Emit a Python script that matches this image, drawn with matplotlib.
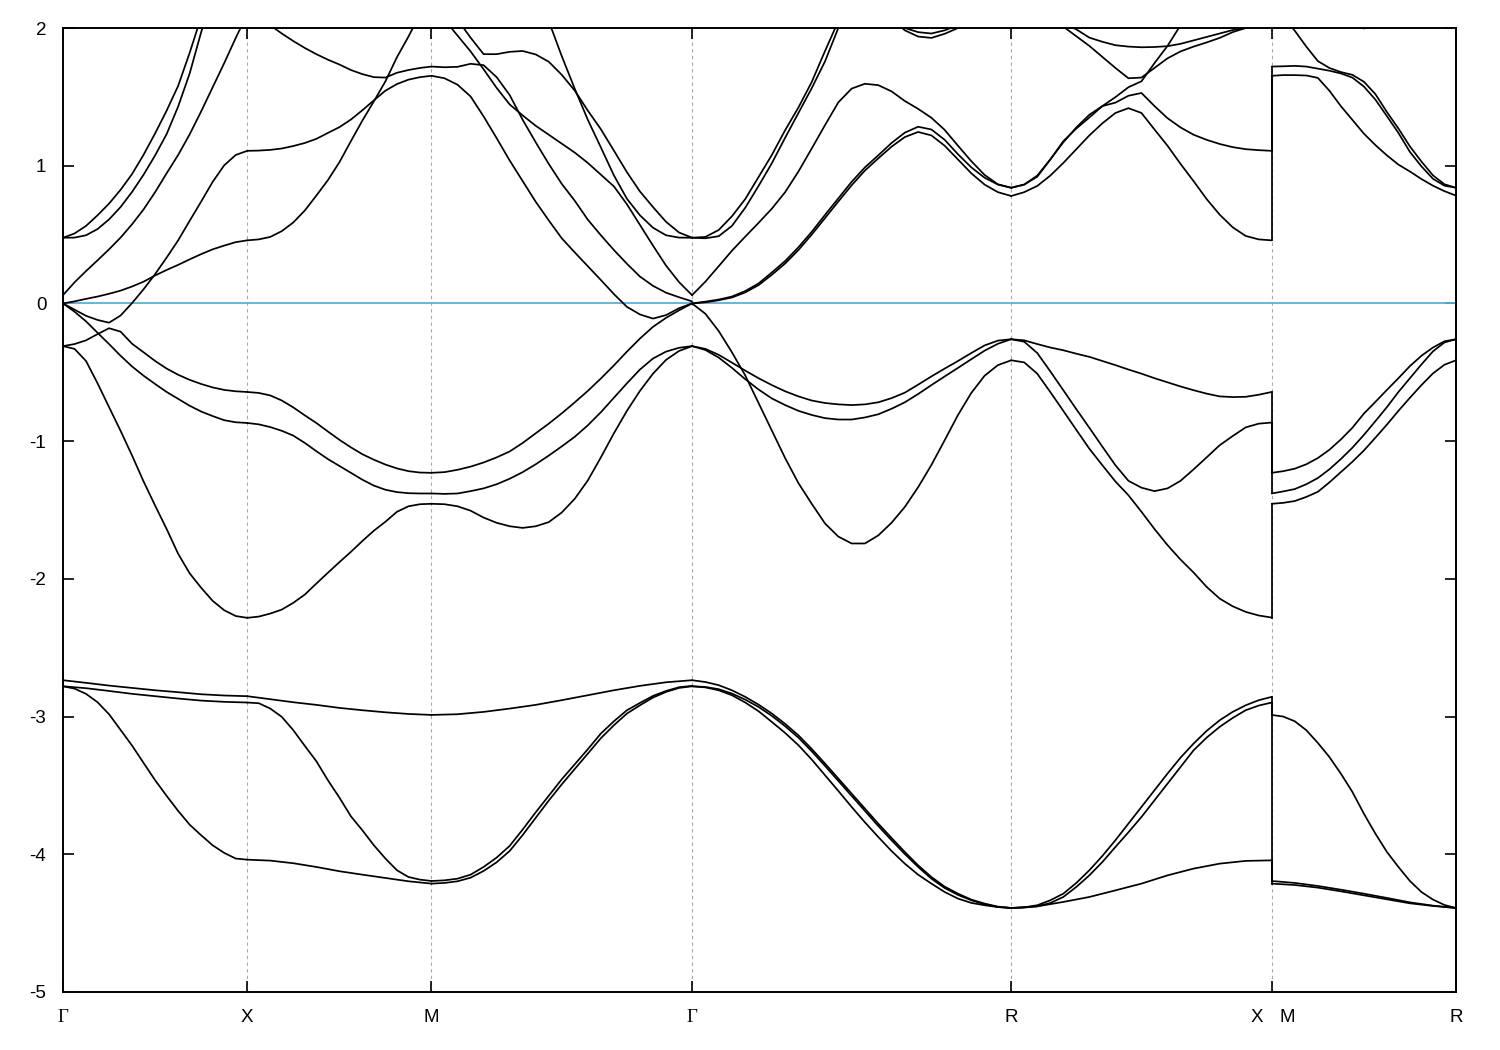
import matplotlib
matplotlib.use('Agg')
import matplotlib.pyplot as plt
import numpy as np

plt.rcParams['font.family'] = ['Liberation Sans', 'DejaVu Sans']
plt.rcParams['axes.unicode_minus'] = False

# high-symmetry points along the path (units of 2pi/a)
kpt_labels = ['Γ', 'X', 'M', 'Γ', 'R', 'X', 'M', 'R']
kpt_pos = [0.0, 0.5, 1.0, 1.7071, 2.5731, 3.2802, 3.2802, 3.7802]

# Each list: band energies (eV) sampled uniformly along one path segment.
# ---------------- Γ-X ----------------
b1_gx = [-2.780, -2.797, -2.835, -2.896, -2.983, -3.097, -3.211, -3.337, -3.462, -3.576, -3.685, -3.785, -3.862, -3.935, -3.990, -4.031, -4.039]
b2_gx = [-2.780, -2.794, -2.814, -2.835, -2.852, -2.869, -2.884, -2.893, -2.898]
b3_gx = [-2.736, -2.755, -2.775, -2.792, -2.809, -2.823, -2.838, -2.847, -2.852]
c1_gx = [-0.31, -0.33, -0.418, -0.58, -0.753, -0.925, -1.105, -1.293, -1.468, -1.638, -1.818, -1.96, -2.065, -2.16, -2.228, -2.27, -2.283]
c2_gx = [0.0, -0.06, -0.13, -0.213, -0.295, -0.38, -0.458, -0.525, -0.585, -0.643, -0.693, -0.743, -0.785, -0.818, -0.848, -0.863, -0.868]
c3_gx = [-0.31, -0.295, -0.268, -0.223, -0.18, -0.205, -0.293, -0.355, -0.418, -0.473, -0.518, -0.555, -0.585, -0.61, -0.628, -0.638, -0.643]
c4_gx = [0.0, -0.045, -0.09, -0.12, -0.14, -0.088, 0.003, 0.103, 0.213, 0.333, 0.458, 0.60, 0.74, 0.883, 1.003, 1.078, 1.108]
c5_gx = [0.0, 0.015, 0.033, 0.05, 0.07, 0.093, 0.123, 0.158, 0.203, 0.243, 0.28, 0.32, 0.358, 0.393, 0.42, 0.445, 0.458]
c6_gx = [0.06, 0.153, 0.235, 0.313, 0.393, 0.478, 0.575, 0.683, 0.808, 0.945, 1.078, 1.228, 1.395, 1.57, 1.745, 1.928, 2.1]
c7_gx = [0.477, 0.508, 0.563, 0.64, 0.725, 0.825, 0.94, 1.08, 1.235, 1.40, 1.58, 1.82, 2.08, 2.35, 2.55, 2.7, 2.8]
c8_gx = [0.477, 0.478, 0.495, 0.54, 0.61, 0.70, 0.81, 0.935, 1.075, 1.23, 1.43, 1.67, 1.97, 2.25, 2.45, 2.6, 2.7]

# ---------------- X-M ----------------
b1_xm = [-4.039, -4.046, -4.065, -4.092, -4.123, -4.148, -4.172, -4.196, -4.213]
b2_xm = [-2.898, -2.903, -2.942, -3.002, -3.099, -3.213, -3.324, -3.462, -3.588, -3.724, -3.826, -3.935, -4.031, -4.116, -4.165, -4.184, -4.194]
b3_xm = [-2.852, -2.874, -2.896, -2.915, -2.937, -2.954, -2.969, -2.981, -2.988]
d1_xm = [-2.283, -2.274, -2.252, -2.223, -2.174, -2.114, -2.034, -1.956, -1.879, -1.804, -1.725, -1.65, -1.585, -1.513, -1.473, -1.458, -1.455]
d2_xm = [-0.868, -0.878, -0.898, -0.925, -0.96, -1.013, -1.073, -1.13, -1.18, -1.23, -1.28, -1.323, -1.353, -1.37, -1.378, -1.38, -1.38]
d3_xm = [-0.643, -0.65, -0.668, -0.705, -0.755, -0.813, -0.868, -0.93, -0.99, -1.045, -1.095, -1.135, -1.17, -1.198, -1.218, -1.228, -1.23]
d4_xm = [0.458, 0.465, 0.483, 0.525, 0.588, 0.675, 0.783, 0.895, 1.025, 1.178, 1.328, 1.468, 1.613, 1.788, 1.938, 2.1, 2.25]
d5_xm = [2.15, 2.08, 2.02, 1.96, 1.905, 1.855, 1.81, 1.77, 1.735, 1.695, 1.665, 1.643, 1.64, 1.675, 1.695, 1.71, 1.72]
d6_xm = [1.108, 1.11, 1.115, 1.125, 1.143, 1.165, 1.195, 1.238, 1.28, 1.335, 1.403, 1.475, 1.545, 1.593, 1.625, 1.643, 1.653]

# ---------------- M-Γ ----------------
b1_mg = [-4.213, -4.208, -4.196, -4.17, -4.121, -4.058, -3.976, -3.86, -3.735, -3.61, -3.492, -3.380, -3.269, -3.157, -3.063, -2.978, -2.918, -2.862, -2.821, -2.792, -2.780]
b2_mg = [-4.194, -4.189, -4.177, -4.148, -4.092, -4.024, -3.939, -3.82, -3.695, -3.575, -3.455, -3.346, -3.237, -3.123, -3.034, -2.954, -2.901, -2.850, -2.814, -2.787, -2.777]
b3_mg = [-2.988, -2.983, -2.966, -2.942, -2.915, -2.881, -2.845, -2.809, -2.777, -2.751, -2.736]
e1_mg = [-1.455, -1.458, -1.473, -1.505, -1.555, -1.593, -1.618, -1.63, -1.618, -1.588, -1.518, -1.418, -1.285, -1.118, -0.943, -0.78, -0.635, -0.51, -0.41, -0.345, -0.31]
e2_mg = [-1.38, -1.383, -1.38, -1.363, -1.343, -1.313, -1.273, -1.225, -1.168, -1.105, -1.038, -0.968, -0.885, -0.79, -0.685, -0.58, -0.48, -0.4, -0.35, -0.322, -0.31]
e3_mg = [-1.23, -1.225, -1.208, -1.185, -1.155, -1.118, -1.075, -1.013, -0.943, -0.873, -0.798, -0.718, -0.635, -0.545, -0.45, -0.35, -0.255, -0.17, -0.105, -0.05, 0.0]
e4_mg = [1.653, 1.635, 1.588, 1.503, 1.358, 1.20, 1.038, 0.888, 0.738, 0.603, 0.473, 0.37, 0.27, 0.17, 0.068, -0.025, -0.08, -0.11, -0.085, -0.035, 0.0]
e5_mg = [1.72, 1.715, 1.718, 1.74, 1.73, 1.643, 1.513, 1.333, 1.17, 1.013, 0.868, 0.745, 0.608, 0.495, 0.388, 0.288, 0.195, 0.128, 0.078, 0.045, 0.015]
e6_mg = [2.17, 2.06, 1.945, 1.83, 1.70, 1.565, 1.445, 1.365, 1.29, 1.225, 1.16, 1.095, 1.02, 0.935, 0.85, 0.72, 0.57, 0.42, 0.275, 0.155, 0.06]
e7_mg = [2.35, 2.2, 2.06, 1.93, 1.81, 1.81, 1.827, 1.833, 1.808, 1.755, 1.66, 1.545, 1.40, 1.265, 1.11, 0.953, 0.813, 0.70, 0.593, 0.515, 0.477]
e8_mg = [2.6, 2.57, 2.54, 2.5, 2.46, 2.42, 2.38, 2.3, 2.2, 2.05, 1.795, 1.558, 1.333, 1.133, 0.93, 0.76, 0.64, 0.55, 0.495, 0.478, 0.477]

# ---------------- Γ-R ----------------
b1_gr = [-2.780, -2.788, -2.809, -2.845, -2.898, -2.961, -3.039, -3.119, -3.208, -3.312, -3.426, -3.540, -3.656, -3.768, -3.874, -3.976, -4.068, -4.148, -4.213, -4.274, -4.322, -4.353, -4.370, -4.383, -4.390]
b2_gr = [-2.780, -2.785, -2.801, -2.833, -2.877, -2.930, -2.995, -3.070, -3.153, -3.252, -3.358, -3.467, -3.576, -3.685, -3.794, -3.898, -3.998, -4.092, -4.177, -4.245, -4.295, -4.334, -4.363, -4.383, -4.390]
b3_gr = [-2.736, -2.749, -2.772, -2.809, -2.857, -2.913, -2.978, -3.053, -3.136, -3.235, -3.341, -3.450, -3.559, -3.668, -3.777, -3.881, -3.983, -4.080, -4.165, -4.235, -4.286, -4.329, -4.358, -4.380, -4.390]
f1_gr = [-0.31, -0.33, -0.373, -0.43, -0.488, -0.543, -0.593, -0.638, -0.675, -0.705, -0.723, -0.733, -0.738, -0.733, -0.718, -0.688, -0.648, -0.59, -0.53, -0.473, -0.418, -0.36, -0.305, -0.27, -0.26]
f2_gr = [-0.31, -0.338, -0.393, -0.468, -0.55, -0.625, -0.69, -0.738, -0.78, -0.81, -0.833, -0.843, -0.843, -0.828, -0.805, -0.765, -0.718, -0.658, -0.593, -0.53, -0.468, -0.405, -0.343, -0.293, -0.26]
f3_gr = [0.0, -0.075, -0.2, -0.355, -0.523, -0.723, -0.923, -1.123, -1.305, -1.455, -1.598, -1.693, -1.743, -1.743, -1.685, -1.593, -1.478, -1.335, -1.173, -0.993, -0.81, -0.65, -0.525, -0.448, -0.413]
f4_gr = [0.0, 0.013, 0.028, 0.05, 0.09, 0.145, 0.225, 0.308, 0.408, 0.52, 0.643, 0.763, 0.883, 0.988, 1.075, 1.165, 1.24, 1.283, 1.263, 1.188, 1.083, 0.988, 0.913, 0.863, 0.84]
f5_gr = [0.0, 0.008, 0.023, 0.043, 0.08, 0.133, 0.208, 0.29, 0.388, 0.50, 0.62, 0.74, 0.858, 0.965, 1.053, 1.138, 1.208, 1.245, 1.22, 1.145, 1.045, 0.945, 0.863, 0.808, 0.78]
f6_gr = [0.06, 0.158, 0.27, 0.383, 0.485, 0.585, 0.688, 0.808, 0.958, 1.125, 1.295, 1.46, 1.56, 1.595, 1.585, 1.54, 1.47, 1.413, 1.348, 1.26, 1.145, 1.033, 0.933, 0.865, 0.84]
f7_gr = [0.477, 0.483, 0.533, 0.633, 0.758, 0.918, 1.078, 1.258, 1.423, 1.608, 1.833, 2.05, 2.25, 2.4, 2.5, 2.55, 2.6, 2.6, 2.6, 2.55, 2.5, 2.45, 2.4, 2.37, 2.35]
f8_gr = [0.477, 0.473, 0.488, 0.563, 0.695, 0.853, 1.018, 1.203, 1.383, 1.563, 1.758, 2.0, 2.2, 2.35, 2.45, 2.5, 2.55, 2.55, 2.55, 2.5, 2.45, 2.4, 2.35, 2.32, 2.3]
f9_gr = [2.6, 2.6, 2.6, 2.58, 2.55, 2.52, 2.5, 2.47, 2.45, 2.42, 2.4, 2.35, 2.3, 2.22, 2.15, 2.07, 1.983, 1.938, 1.928, 1.958, 2.0, 2.08, 2.15, 2.22, 2.3]
f10_gr = [2.7, 2.7, 2.7, 2.68, 2.65, 2.62, 2.6, 2.57, 2.55, 2.52, 2.5, 2.45, 2.35, 2.27, 2.2, 2.1, 2.0, 1.97, 1.96, 1.983, 2.02, 2.1, 2.2, 2.28, 2.35]

# ---------------- R-X ----------------
b1_rx = [-4.390, -4.378, -4.346, -4.310, -4.262, -4.213, -4.153, -4.104, -4.068, -4.048, -4.044]
b2_rx = [-4.390, -4.387, -4.378, -4.354, -4.310, -4.237, -4.153, -4.056, -3.947, -3.840, -3.729, -3.608, -3.487, -3.366, -3.245, -3.153, -3.075, -3.010, -2.954, -2.920, -2.898]
b3_rx = [-4.390, -4.385, -4.370, -4.334, -4.286, -4.208, -4.116, -4.012, -3.898, -3.777, -3.656, -3.535, -3.414, -3.298, -3.196, -3.104, -3.027, -2.966, -2.918, -2.881, -2.857]
g1_rx = [-0.26, -0.268, -0.295, -0.32, -0.34, -0.365, -0.388, -0.418, -0.448, -0.48, -0.51, -0.543, -0.573, -0.603, -0.63, -0.655, -0.675, -0.68, -0.678, -0.663, -0.643]
g2_rx = [-0.26, -0.278, -0.36, -0.493, -0.63, -0.768, -0.903, -1.04, -1.175, -1.288, -1.338, -1.363, -1.343, -1.288, -1.205, -1.118, -1.03, -0.963, -0.9, -0.873, -0.865]
g3_rx = [-0.413, -0.428, -0.51, -0.643, -0.78, -0.918, -1.055, -1.175, -1.293, -1.393, -1.513, -1.638, -1.755, -1.86, -1.954, -2.058, -2.143, -2.199, -2.24, -2.266, -2.281]
g4_rx = [0.78, 0.808, 0.853, 0.928, 1.02, 1.12, 1.22, 1.308, 1.383, 1.418, 1.383, 1.263, 1.145, 1.013, 0.888, 0.758, 0.645, 0.553, 0.49, 0.465, 0.458]
g5_rx = [0.84, 0.863, 0.92, 1.045, 1.17, 1.278, 1.37, 1.433, 1.458, 1.508, 1.528, 1.433, 1.345, 1.278, 1.225, 1.188, 1.158, 1.135, 1.12, 1.113, 1.108]
g6_rx = [0.84, 0.863, 0.928, 1.045, 1.178, 1.27, 1.35, 1.433, 1.498, 1.57, 1.613, 1.745, 1.87, 2.02, 2.2, 2.35, 2.45, 2.5, 2.52, 2.54, 2.55]
g7_rx = [2.35, 2.25, 2.17, 2.08, 2.01, 1.94, 1.87, 1.79, 1.71, 1.635, 1.64, 1.71, 1.78, 1.83, 1.865, 1.895, 1.928, 1.97, 2.0, 2.04, 2.08]
g8_rx = [2.3, 2.22, 2.15, 2.09, 2.03, 1.99, 1.93, 1.9, 1.875, 1.865, 1.86, 1.862, 1.868, 1.885, 1.91, 1.935, 1.96, 1.985, 2.0, 2.02, 2.05]

# ---------------- M-R ----------------
b1_mr = [-4.213, -4.223, -4.242, -4.269, -4.298, -4.327, -4.356, -4.375, -4.390]
b2_mr = [-4.194, -4.208, -4.230, -4.257, -4.286, -4.317, -4.349, -4.373, -4.390]
b3_mr = [-2.988, -3.000, -3.034, -3.099, -3.191, -3.293, -3.414, -3.547, -3.705, -3.850, -3.983, -4.092, -4.194, -4.274, -4.329, -4.368, -4.390]
h1_mr = [-1.23, -1.218, -1.2, -1.168, -1.123, -1.063, -0.988, -0.903, -0.8, -0.715, -0.628, -0.543, -0.455, -0.38, -0.32, -0.275, -0.26]
h2_mr = [-1.38, -1.365, -1.348, -1.313, -1.268, -1.205, -1.13, -1.048, -0.955, -0.855, -0.753, -0.643, -0.543, -0.443, -0.348, -0.283, -0.26]
h3_mr = [-1.455, -1.448, -1.435, -1.405, -1.368, -1.3, -1.225, -1.15, -1.068, -0.975, -0.88, -0.78, -0.685, -0.593, -0.508, -0.445, -0.413]
h4_mr = [1.72, 1.722, 1.725, 1.72, 1.705, 1.69, 1.67, 1.64, 1.575, 1.48, 1.36, 1.238, 1.1, 0.995, 0.905, 0.855, 0.84]
h5_mr = [1.653, 1.658, 1.658, 1.655, 1.638, 1.545, 1.433, 1.333, 1.233, 1.15, 1.075, 1.008, 0.958, 0.903, 0.855, 0.815, 0.783]
h6_mr = [2.17, 2.08, 1.98, 1.865, 1.76, 1.71, 1.68, 1.66, 1.61, 1.52, 1.39, 1.27, 1.14, 1.03, 0.93, 0.865, 0.84]
h7_mr = [2.4, 2.25, 2.12, 2.04, 1.997, 2.02, 2.1, 2.2, 2.3]

seg_gx = [b1_gx, b2_gx, b3_gx, c1_gx, c2_gx, c3_gx, c4_gx, c5_gx, c6_gx, c7_gx, c8_gx]
seg_xm = [b1_xm, b2_xm, b3_xm, d1_xm, d2_xm, d3_xm, d4_xm, d5_xm, d6_xm]
seg_mg = [b1_mg, b2_mg, b3_mg, e1_mg, e2_mg, e3_mg, e4_mg, e5_mg, e6_mg, e7_mg, e8_mg]
seg_gr = [b1_gr, b2_gr, b3_gr, f1_gr, f2_gr, f3_gr, f4_gr, f5_gr, f6_gr, f7_gr, f8_gr, f9_gr, f10_gr]
seg_rx = [b1_rx, b2_rx, b3_rx, g1_rx, g2_rx, g3_rx, g4_rx, g5_rx, g6_rx, g7_rx, g8_rx]
seg_mr = [b1_mr, b2_mr, b3_mr, h1_mr, h2_mr, h3_mr, h4_mr, h5_mr, h6_mr, h7_mr]

segments = [
    (kpt_pos[0], kpt_pos[1], seg_gx),
    (kpt_pos[1], kpt_pos[2], seg_xm),
    (kpt_pos[2], kpt_pos[3], seg_mg),
    (kpt_pos[3], kpt_pos[4], seg_gr),
    (kpt_pos[4], kpt_pos[5], seg_rx),
    (kpt_pos[6], kpt_pos[7], seg_mr),
]

W, H = 1500, 1050
fig = plt.figure(figsize=(W / 100, H / 100), dpi=100)
ax = fig.add_axes([63 / W, (H - 992) / H, 1393 / W, 964 / H])

LW = 1.25
for k0, k1, curves in segments:
    for E in curves:
        x = np.linspace(k0, k1, len(E))
        ax.plot(x, E, color='black', lw=LW, solid_joinstyle='round',
                solid_capstyle='round', zorder=3)

# band connectors at the X|M discontinuity (band n at X joined to band n at M)
ends_x = sorted(c[-1] for c in seg_rx)
starts_m = sorted(c[0] for c in seg_mr)
for a, b in zip(ends_x, starts_m):
    ax.plot([kpt_pos[5], kpt_pos[6]], [a, b], color='black', lw=LW, zorder=3)

# high-symmetry guide lines and Fermi level
for k in sorted(set(kpt_pos))[1:-1]:
    ax.axvline(k, color='#a8a8a8', lw=0.8, dashes=(3, 3), zorder=1)
ax.axhline(0.0, color='#56b0e4', lw=1.3, zorder=2)

ax.set_xlim(kpt_pos[0], kpt_pos[-1])
ax.set_ylim(-5, 2)
ax.set_yticks(range(-5, 3))
ax.set_yticklabels([str(v) for v in range(-5, 3)])

tick_k = [0.0, 0.5, 1.0, 1.7071, 2.5731, 3.2802, 3.7802]
tick_lab = ['Γ', 'X', 'M', 'Γ', 'R', '', 'R']
ax.set_xticks(tick_k)
ax.set_xticklabels(tick_lab)
for lab in ax.get_xticklabels():
    if lab.get_text() == 'Γ':
        lab.set_fontfamily('Liberation Serif')
        lab.set_fontsize(15)

ax.tick_params(axis='y', direction='in', length=8, width=1.2, left=True, right=True,
               labelsize=13.5, pad=12)
ax.tick_params(axis='x', direction='in', length=8, width=1.2, top=True, bottom=True,
               labelsize=13.5, pad=12)

# split label at the X|M discontinuity
for txt, dx in (('X', -10.8), ('M', 10.8)):
    ax.annotate(txt, xy=(kpt_pos[5], 0), xycoords=('data', 'axes fraction'),
                xytext=(dx, -12), textcoords='offset points', ha='center', va='top',
                fontsize=13.5)

for sp in ax.spines.values():
    sp.set_linewidth(1.4)

fig.savefig('out.png', dpi=100)
